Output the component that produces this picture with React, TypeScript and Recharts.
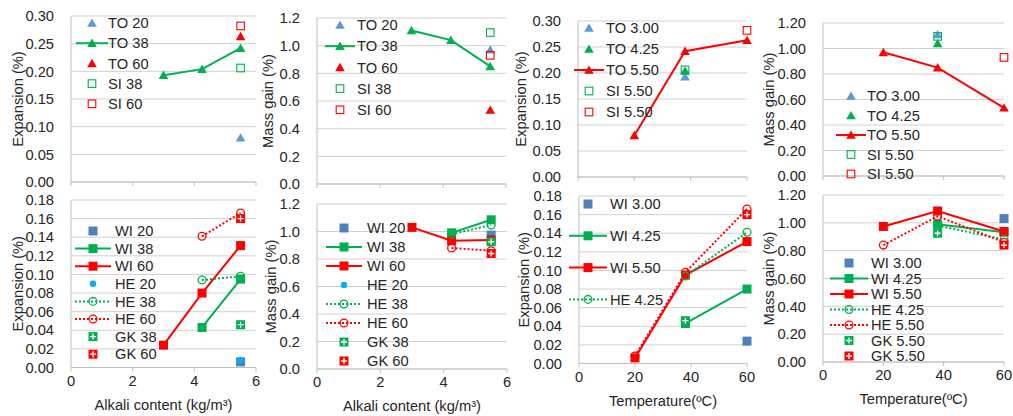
import React from 'react'
import { CartesianGrid, Line, LineChart, XAxis, YAxis } from 'recharts'

// rows: 20, 38, 60 ºC; columns: alkali 3.00, 4.25, 5.50 kg/m3
type Row = (number | null)[]

const alkali = [3.0, 4.25, 5.5]
const temps = [20, 38, 60]
const alkaliTicks = [0, 2, 4, 6]
const tempTicks = [0, 20, 40, 60]

const toExpansion: Row[] = [
  [null, null, 0.08],
  [0.193, 0.204, 0.242],
  [null, null, 0.263],
]
const siExpansion: Row[] = [
  [null, null, null],
  [null, null, 0.206],
  [null, null, 0.282],
]
const toMass: Row[] = [
  [null, null, 0.97],
  [1.11, 1.04, 0.85],
  [null, null, 0.535],
]
const siMass: Row[] = [
  [null, null, null],
  [null, null, 1.095],
  [null, null, 0.93],
]
const wiExpansion: Row[] = [
  [null, null, 0.006],
  [null, 0.043, 0.095],
  [0.024, 0.08, 0.131],
]
const heExpansion: Row[] = [
  [null, null, 0.008],
  [null, 0.094, 0.098],
  [null, 0.141, 0.166],
]
const gkExpansion: Row[] = [
  [null, null, null],
  [null, null, 0.046],
  [null, null, 0.16],
]
const wiMass: Row[] = [
  [null, null, 0.974],
  [null, 0.99, 1.085],
  [1.03, 0.933, 0.938],
]
const heMass: Row[] = [
  [null, null, 0.84],
  [null, 0.98, 1.047],
  [null, 0.88, 0.86],
]
const gkMass: Row[] = [
  [null, null, null],
  [null, null, 0.925],
  [null, null, 0.84],
]

const BLUE = '#5b9bd5'
const STEEL = '#4f81bd'
const CYAN = '#00b0f0'
const GREEN = '#00b050'
const RED = '#ff0000'
const TEXT = '#262626'
const GRID = '#d0d0d0'
const AXIS = '#bfbfbf'
const FONT = '"Liberation Sans", Arial, sans-serif'
const FS = 14.7

type Shape = 'tri' | 'sq' | 'osq' | 'ocirc' | 'dot' | 'cross'
type Stroke = 'solid' | 'dot' | 'none'
type Pt = { x: number; y: number }

interface Series {
  name: string
  color: string
  shape: Shape
  line: Stroke
  points: Pt[]
}

const byAlkali = (rows: Row[], t: number): Pt[] =>
  alkali.flatMap((a, i) => (rows[t][i] == null ? [] : [{ x: a, y: rows[t][i] as number }]))

const byTemp = (rows: Row[], j: number): Pt[] =>
  temps.flatMap((T, t) => (rows[t][j] == null ? [] : [{ x: T, y: rows[t][j] as number }]))

const atTemp = (rows: Row[], t: number): Pt[] =>
  rows[t][2] == null ? [] : [{ x: temps[t], y: rows[t][2] as number }]

const s = (name: string, color: string, shape: Shape, line: Stroke, points: Pt[]): Series => ({
  name,
  color,
  shape,
  line,
  points,
})

function Marker({ shape, x, y, color }: { shape: Shape; x: number; y: number; color: string }) {
  switch (shape) {
    case 'tri':
      return <path d={`M${x},${y - 4.6}L${x + 4.8},${y + 3.8}L${x - 4.8},${y + 3.8}Z`} fill={color} />
    case 'sq':
      return <rect x={x - 4.5} y={y - 4.5} width={9} height={9} fill={color} />
    case 'osq':
      return <rect x={x - 3.8} y={y - 3.8} width={7.6} height={7.6} fill="none" stroke={color} strokeWidth={1.1} />
    case 'ocirc':
      return <circle cx={x} cy={y} r={3.9} fill="none" stroke={color} strokeWidth={1.3} />
    case 'dot':
      return <circle cx={x} cy={y} r={3.2} fill={color} />
    case 'cross':
      return (
        <g>
          <rect x={x - 4.5} y={y - 4.5} width={9} height={9} fill={color} />
          <path d={`M${x - 3},${y}H${x + 3}M${x},${y - 3}V${y + 3}`} stroke="#fff" strokeWidth={1.3} />
        </g>
      )
  }
}

interface LegendItem {
  label: string
  color: string
  shape: Shape
  line: Stroke
}
interface LegendBlock {
  mx: number
  tx: number
  y0: number
  dy: number
  half: number
  items: LegendItem[]
}

interface Panel {
  id: string
  box: [number, number, number, number]
  xDomain: [number, number]
  xTicks: number[]
  yMax: number
  yStep: number
  yDigits: number
  yTitle: string
  yTitleX: number
  xTitle?: string
  series: Series[]
  legend: LegendBlock
}

const li = (sr: Series): LegendItem => ({ label: sr.name, color: sr.color, shape: sr.shape, line: sr.line })

// expansion / mass gain against alkali content
const p1 = [
  s('TO 20', BLUE, 'tri', 'none', byAlkali(toExpansion, 0)),
  s('TO 38', GREEN, 'tri', 'solid', byAlkali(toExpansion, 1)),
  s('TO 60', RED, 'tri', 'none', byAlkali(toExpansion, 2)),
  s('SI 38', GREEN, 'osq', 'none', byAlkali(siExpansion, 1)),
  s('SI 60', RED, 'osq', 'none', byAlkali(siExpansion, 2)),
]
const p2 = [
  s('WI 20', STEEL, 'sq', 'none', byAlkali(wiExpansion, 0)),
  s('WI 38', GREEN, 'sq', 'solid', byAlkali(wiExpansion, 1)),
  s('WI 60', RED, 'sq', 'solid', byAlkali(wiExpansion, 2)),
  s('HE 20', CYAN, 'dot', 'none', byAlkali(heExpansion, 0)),
  s('HE 38', GREEN, 'ocirc', 'dot', byAlkali(heExpansion, 1)),
  s('HE 60', RED, 'ocirc', 'dot', byAlkali(heExpansion, 2)),
  s('GK 38', GREEN, 'cross', 'none', byAlkali(gkExpansion, 1)),
  s('GK 60', RED, 'cross', 'none', byAlkali(gkExpansion, 2)),
]
const p3 = [
  s('TO 20', BLUE, 'tri', 'none', byAlkali(toMass, 0)),
  s('TO 38', GREEN, 'tri', 'solid', byAlkali(toMass, 1)),
  s('TO 60', RED, 'tri', 'none', byAlkali(toMass, 2)),
  s('SI 38', GREEN, 'osq', 'none', byAlkali(siMass, 1)),
  s('SI 60', RED, 'osq', 'none', byAlkali(siMass, 2)),
]
const p4 = [
  s('WI 20', STEEL, 'sq', 'none', byAlkali(wiMass, 0)),
  s('WI 38', GREEN, 'sq', 'solid', byAlkali(wiMass, 1)),
  s('WI 60', RED, 'sq', 'solid', byAlkali(wiMass, 2)),
  s('HE 20', CYAN, 'dot', 'none', byAlkali(heMass, 0)),
  s('HE 38', GREEN, 'ocirc', 'dot', byAlkali(heMass, 1)),
  s('HE 60', RED, 'ocirc', 'dot', byAlkali(heMass, 2)),
  s('GK 38', GREEN, 'cross', 'none', byAlkali(gkMass, 1)),
  s('GK 60', RED, 'cross', 'none', byAlkali(gkMass, 2)),
]

// the same results against temperature
const p5 = [
  s('TO 3.00', BLUE, 'tri', 'none', byTemp(toExpansion, 0)),
  s('TO 4.25', GREEN, 'tri', 'none', byTemp(toExpansion, 1)),
  s('TO 5.50', RED, 'tri', 'solid', byTemp(toExpansion, 2)),
  s('SI 5.50', GREEN, 'osq', 'none', atTemp(siExpansion, 1)),
  s('SI 5.50', RED, 'osq', 'none', atTemp(siExpansion, 2)),
]
const p6 = [
  s('WI 3.00', STEEL, 'sq', 'none', byTemp(wiExpansion, 0)),
  s('WI 4.25', GREEN, 'sq', 'solid', byTemp(wiExpansion, 1)),
  s('WI 5.50', RED, 'sq', 'solid', byTemp(wiExpansion, 2)),
  s('HE 4.25', GREEN, 'ocirc', 'dot', byTemp(heExpansion, 1)),
  s('HE 5.50', RED, 'ocirc', 'dot', byTemp(heExpansion, 2)),
  s('GK 5.50', GREEN, 'cross', 'none', atTemp(gkExpansion, 1)),
  s('GK 5.50', RED, 'cross', 'none', atTemp(gkExpansion, 2)),
]
const p7 = [
  s('TO 3.00', BLUE, 'tri', 'none', byTemp(toMass, 0)),
  s('TO 4.25', GREEN, 'tri', 'none', byTemp(toMass, 1)),
  s('TO 5.50', RED, 'tri', 'solid', byTemp(toMass, 2)),
  s('SI 5.50', GREEN, 'osq', 'none', atTemp(siMass, 1)),
  s('SI 5.50', RED, 'osq', 'none', atTemp(siMass, 2)),
]
const p8 = [
  s('WI 3.00', STEEL, 'sq', 'none', byTemp(wiMass, 0)),
  s('WI 4.25', GREEN, 'sq', 'solid', byTemp(wiMass, 1)),
  s('WI 5.50', RED, 'sq', 'solid', byTemp(wiMass, 2)),
  s('HE 4.25', GREEN, 'ocirc', 'dot', byTemp(heMass, 1)),
  s('HE 5.50', RED, 'ocirc', 'dot', byTemp(heMass, 2)),
  s('GK 5.50', GREEN, 'cross', 'none', atTemp(gkMass, 1)),
  s('GK 5.50', RED, 'cross', 'none', atTemp(gkMass, 2)),
]

const panels: Panel[] = [
  {
    id: 'p1', box: [71, 16, 256, 182], xDomain: [0, 6], xTicks: alkaliTicks,
    yMax: 0.3, yStep: 0.05, yDigits: 2, yTitle: 'Expansion (%)', yTitleX: 17.5, series: p1,
    legend: { mx: 92, tx: 108, y0: 23, dy: 20.2, half: 16, items: p1.map(li) },
  },
  {
    id: 'p2', box: [71, 199.5, 256, 367], xDomain: [0, 6], xTicks: alkaliTicks,
    yMax: 0.18, yStep: 0.02, yDigits: 2, yTitle: 'Expansion (%)', yTitleX: 17.5,
    xTitle: 'Alkali content (kg/m³)', series: p2,
    legend: { mx: 93, tx: 115, y0: 231, dy: 17.6, half: 18, items: p2.map(li) },
  },
  {
    id: 'p3', box: [317, 18, 506, 184], xDomain: [0, 6], xTicks: alkaliTicks,
    yMax: 1.2, yStep: 0.2, yDigits: 1, yTitle: 'Mass gain (%)', yTitleX: 268, series: p3,
    legend: { mx: 340, tx: 357, y0: 25, dy: 21.2, half: 15, items: p3.map(li) },
  },
  {
    id: 'p4', box: [317, 204, 507, 369], xDomain: [0, 6], xTicks: alkaliTicks,
    yMax: 1.2, yStep: 0.2, yDigits: 1, yTitle: 'Mass gain (%)', yTitleX: 270.5,
    xTitle: 'Alkali content (kg/m³)', series: p4,
    legend: { mx: 344, tx: 367, y0: 228, dy: 19, half: 18, items: p4.map(li) },
  },
  {
    id: 'p5', box: [578, 21, 747, 177], xDomain: [0, 60], xTicks: tempTicks,
    yMax: 0.3, yStep: 0.05, yDigits: 2, yTitle: 'Expansion (%)', yTitleX: 521, series: p5,
    legend: { mx: 589, tx: 606, y0: 28, dy: 21, half: 15, items: p5.map(li) },
  },
  {
    id: 'p6', box: [579, 195.5, 747, 363], xDomain: [0, 60], xTicks: tempTicks,
    yMax: 0.18, yStep: 0.02, yDigits: 2, yTitle: 'Expansion (%)', yTitleX: 523.5,
    xTitle: 'Temperature(ºC)', series: p6,
    legend: { mx: 588, tx: 610, y0: 204, dy: 31.8, half: 19, items: p6.slice(0, 4).map(li) },
  },
  {
    id: 'p7', box: [823, 23, 1004, 176], xDomain: [0, 60], xTicks: tempTicks,
    yMax: 1.2, yStep: 0.2, yDigits: 2, yTitle: 'Mass gain (%)', yTitleX: 768.5, series: p7,
    legend: { mx: 851, tx: 867, y0: 96, dy: 19.5, half: 15, items: p7.map(li) },
  },
  {
    id: 'p8', box: [823, 195, 1004, 362], xDomain: [0, 60], xTicks: tempTicks,
    yMax: 1.2, yStep: 0.2, yDigits: 2, yTitle: 'Mass gain (%)', yTitleX: 768.5,
    xTitle: 'Temperature(ºC)', series: p8,
    legend: { mx: 849, tx: 871, y0: 263, dy: 15.5, half: 19, items: p8.map(li) },
  },
]

const Y_AXIS_W = 80
const TOP_PAD = 10
const RIGHT_PAD = 10

const dash = (line: Stroke) => (line === 'dot' ? '2 2' : undefined)

const ChartPanel = ({ p }: { p: Panel }) => {
  const [l, t, r, b] = p.box
  const xh = p.xTitle ? 50 : 12
  const width = Y_AXIS_W + (r - l) + RIGHT_PAD
  const height = TOP_PAD + (b - t) + xh
  const yTicks = Array.from({ length: Math.round(p.yMax / p.yStep) + 1 }, (_, i) =>
    Number((i * p.yStep).toFixed(3)),
  )
  return (
    <div style={{ position: 'absolute', left: l - Y_AXIS_W, top: t - TOP_PAD }}>
      <LineChart
        width={width}
        height={height}
        margin={{ top: TOP_PAD, right: RIGHT_PAD, left: 0, bottom: 0 }}
      >
        <CartesianGrid vertical={false} stroke={GRID} strokeWidth={1} />
        <XAxis
          type="number"
          dataKey="x"
          domain={p.xDomain}
          ticks={p.xTicks}
          interval={0}
          height={xh}
          stroke={AXIS}
          tickSize={4}
          tickMargin={4}
          tick={p.xTitle ? { fill: TEXT, fontSize: FS, fontFamily: FONT } : () => <g />}
          label={
            p.xTitle
              ? { value: p.xTitle, position: 'insideBottom', offset: 8, fill: TEXT, fontSize: FS, fontFamily: FONT }
              : undefined
          }
        />
        <YAxis
          type="number"
          domain={[0, p.yMax]}
          ticks={yTicks}
          interval={0}
          width={Y_AXIS_W}
          stroke={AXIS}
          tickLine={false}
          tickSize={0}
          tickMargin={17}
          tickFormatter={(v: number) => v.toFixed(p.yDigits)}
          tick={{ fill: TEXT, fontSize: FS, fontFamily: FONT }}
          label={{
            value: p.yTitle,
            angle: -90,
            position: 'insideLeft',
            offset: p.yTitleX - (l - Y_AXIS_W),
            fill: TEXT,
            fontSize: FS,
            fontFamily: FONT,
            style: { textAnchor: 'middle' },
          }}
        />
        {p.series.map((sr, k) => (
          <Line
            key={`${p.id}-${k}`}
            data={sr.points}
            dataKey="y"
            name={sr.name}
            type="linear"
            stroke={sr.line === 'none' ? 'none' : sr.color}
            strokeWidth={2}
            strokeDasharray={dash(sr.line)}
            activeDot={false}
            legendType="none"
            isAnimationActive={false}
            dot={(d: any) => (
              <Marker key={`${p.id}-${k}-${d.index}`} shape={sr.shape} x={d.cx} y={d.cy} color={sr.color} />
            )}
          />
        ))}
      </LineChart>
    </div>
  )
}

const Legends = () => (
  <svg
    width={1013}
    height={416}
    style={{ position: 'absolute', left: 0, top: 0, pointerEvents: 'none' }}
  >
    {panels.map((p) =>
      p.legend.items.map((it, i) => {
        const y = p.legend.y0 + i * p.legend.dy
        const { mx, tx, half } = p.legend
        return (
          <g key={`${p.id}-lg-${i}`}>
            {it.line !== 'none' && (
              <line
                x1={mx - half}
                x2={mx + half}
                y1={y}
                y2={y}
                stroke={it.color}
                strokeWidth={2}
                strokeDasharray={dash(it.line)}
              />
            )}
            <Marker shape={it.shape} x={mx} y={y} color={it.color} />
            <text x={tx} y={y} dy="0.36em" fill={TEXT} fontSize={FS} fontFamily={FONT}>
              {it.label}
            </text>
          </g>
        )
      }),
    )}
  </svg>
)

export default function App() {
  return (
    <div
      style={{
        position: 'absolute',
        left: 0,
        top: 0,
        width: 1013,
        height: 416,
        background: '#fff',
        overflow: 'hidden',
        fontFamily: FONT,
      }}
    >
      {panels.map((p) => (
        <ChartPanel key={p.id} p={p} />
      ))}
      <Legends />
    </div>
  )
}
